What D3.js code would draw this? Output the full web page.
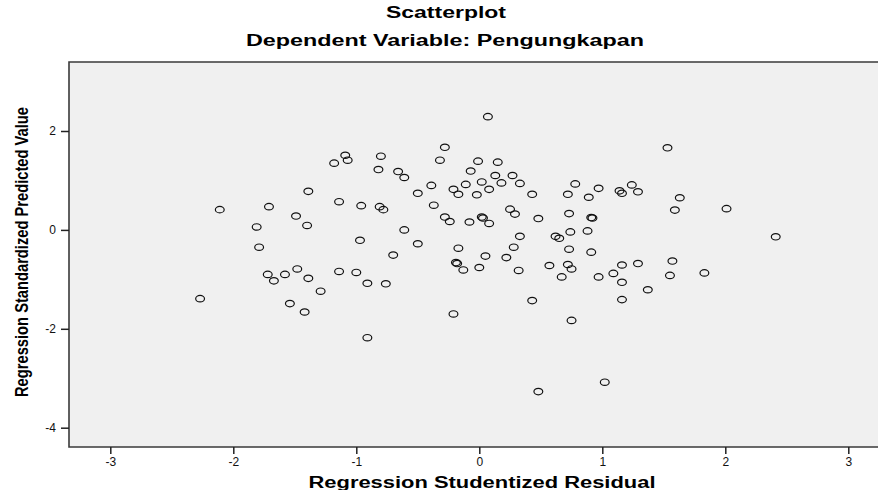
<!DOCTYPE html>
<html>
<head>
<meta charset="utf-8">
<script src="https://cdn.jsdelivr.net/npm/d3@7"></script>
<style>
  body { margin: 0; background: #fff; }
  text { font-family: "Liberation Sans", Arial, sans-serif; }
</style>
</head>
<body>
<svg id="chart"></svg>
<script>
// Regression Studentized Residual (x)
const residual = [
  -1.09, -1.07, -1.18, -1.39, -1.14, -0.96, -2.11, -1.71, -1.49, -1.81,
  -1.40, -1.79, -0.97, 0.07, -0.28, -0.80, -0.82, -0.66, -0.61, -0.32,
  -0.01, 0.15, -0.07, 0.13, 0.27, 0.02, 0.18, 0.33, -0.11, -0.39,
  -0.21, -0.17, 0.08, -0.02, 0.43, -0.50, 0.78, 0.72, 0.89, 0.97,
  1.14, -0.37, -0.81, -0.78, -0.28, -0.24, -0.08, 0.02, 0.03, 0.08,
  0.25, 0.29, 0.48, 0.73, 0.91, 0.92, -0.61, -0.50, -0.17, -0.70,
  0.05, 0.22, 0.33, 0.28, 0.62, 0.65, 0.74, 0.88, 0.73, 0.91,
  1.53, 1.16, 1.24, 1.29, 1.63, 1.59, 2.01, 2.41, -1.72, -1.67,
  -1.58, -1.48, -1.39, -1.29, -1.14, -1.00, -1.54, -1.42, -2.27, -0.19,
  -0.18, -0.13, 0.00, 0.32, 0.57, 0.72, 0.75, 0.67, 0.97, 1.09,
  1.16, 1.29, 1.16, 1.16, 1.37, 1.55, 1.57, 1.83, -0.91, -0.76,
  0.43, -0.21, 0.75, -0.91, 0.48, 1.02
];
// Regression Standardized Predicted Value (y)
const predicted = [
  1.51, 1.41, 1.35, 0.78, 0.57, 0.49, 0.41, 0.47, 0.28, 0.06,
  0.09, -0.35, -0.21, 2.29, 1.67, 1.49, 1.22, 1.18, 1.06, 1.41,
  1.39, 1.37, 1.19, 1.10, 1.10, 0.97, 0.95, 0.94, 0.92, 0.90,
  0.82, 0.72, 0.82, 0.71, 0.72, 0.74, 0.93, 0.72, 0.66, 0.84,
  0.79, 0.50, 0.47, 0.41, 0.26, 0.17, 0.16, 0.26, 0.24, 0.13,
  0.42, 0.32, 0.23, 0.33, 0.25, 0.24, 0.00, -0.28, -0.37, -0.51,
  -0.53, -0.56, -0.13, -0.35, -0.13, -0.17, -0.04, -0.02, -0.39, -0.45,
  1.66, 0.74, 0.91, 0.77, 0.65, 0.40, 0.43, -0.14, -0.90, -1.03,
  -0.90, -0.79, -0.98, -1.24, -0.84, -0.86, -1.49, -1.66, -1.39, -0.66,
  -0.68, -0.81, -0.76, -0.82, -0.72, -0.70, -0.79, -0.95, -0.95, -0.88,
  -0.71, -0.68, -1.06, -1.41, -1.21, -0.92, -0.63, -0.87, -1.08, -1.09,
  -1.43, -1.70, -1.83, -2.18, -3.27, -3.08
];
const xTicks = [-3, -2, -1, 0, 1, 2, 3];
const yTicks = [-4, -2, 0, 2];

const width = 878, height = 490;
const svg = d3.select("#chart").attr("width", width).attr("height", height);

const plotLeft = 69, plotTop = 62, plotBottom = 447, plotRight = 882;

const x = d3.scaleLinear().domain([-3, 3]).range([110.3, 848.3]);
const y = d3.scaleLinear().domain([-4, 2]).range([427.7, 131]);
const fmt = d => String(d); // plain hyphen minus, like SPSS

// plot background
svg.append("rect")
  .attr("x", plotLeft).attr("y", plotTop)
  .attr("width", plotRight - plotLeft).attr("height", plotBottom - plotTop)
  .attr("fill", "#f0f0f0");

// frame (top, left, bottom)
svg.append("path")
  .attr("d", `M${plotRight},${plotTop}H${plotLeft}V${plotBottom}H${plotRight}`)
  .attr("fill", "none")
  .attr("stroke", "#3a3a3a")
  .attr("stroke-width", 1.6);

// axes
const xAxis = svg.append("g")
  .attr("transform", `translate(0,${plotBottom})`)
  .call(d3.axisBottom(x).tickValues(xTicks).tickFormat(fmt).tickSize(7).tickSizeOuter(0).tickPadding(3));
xAxis.select(".domain").remove();
xAxis.selectAll("line").attr("stroke", "#222").attr("stroke-width", 1.5);
xAxis.selectAll("text").attr("font-size", 12).attr("fill", "#111");

const yAxis = svg.append("g")
  .attr("transform", `translate(${plotLeft},0)`)
  .call(d3.axisLeft(y).tickValues(yTicks).tickFormat(fmt).tickSize(8).tickPadding(5));
yAxis.select(".domain").remove();
yAxis.selectAll("line").attr("stroke", "#222").attr("stroke-width", 1.5);
yAxis.selectAll("text").attr("font-size", 12).attr("fill", "#111");

// points
svg.append("g")
  .selectAll("ellipse")
  .data(residual.map((r, i) => [r, predicted[i]]))
  .join("ellipse")
    .attr("cx", d => x(d[0]))
    .attr("cy", d => y(d[1]))
    .attr("rx", 4.4)
    .attr("ry", 3.2)
    .attr("fill", "none")
    .attr("stroke", "#111")
    .attr("stroke-width", 1.2);

// titles
svg.append("text")
  .attr("x", 446).attr("y", 18)
  .attr("text-anchor", "middle")
  .attr("font-size", 16).attr("font-weight", "bold")
  .attr("textLength", 120).attr("lengthAdjust", "spacingAndGlyphs")
  .text("Scatterplot");

svg.append("text")
  .attr("x", 445).attr("y", 46)
  .attr("text-anchor", "middle")
  .attr("font-size", 16).attr("font-weight", "bold")
  .attr("textLength", 398).attr("lengthAdjust", "spacingAndGlyphs")
  .text("Dependent Variable: Pengungkapan");

svg.append("text")
  .attr("x", 482).attr("y", 488)
  .attr("text-anchor", "middle")
  .attr("font-size", 16).attr("font-weight", "bold")
  .attr("textLength", 347).attr("lengthAdjust", "spacingAndGlyphs")
  .text("Regression Studentized Residual");

svg.append("text")
  .attr("transform", "translate(28,252) rotate(-90) scale(1,1.25)")
  .attr("text-anchor", "middle")
  .attr("font-size", 14.5).attr("font-weight", "bold")
  .attr("textLength", 290).attr("lengthAdjust", "spacingAndGlyphs")
  .text("Regression Standardized Predicted Value");
</script>
</body>
</html>
